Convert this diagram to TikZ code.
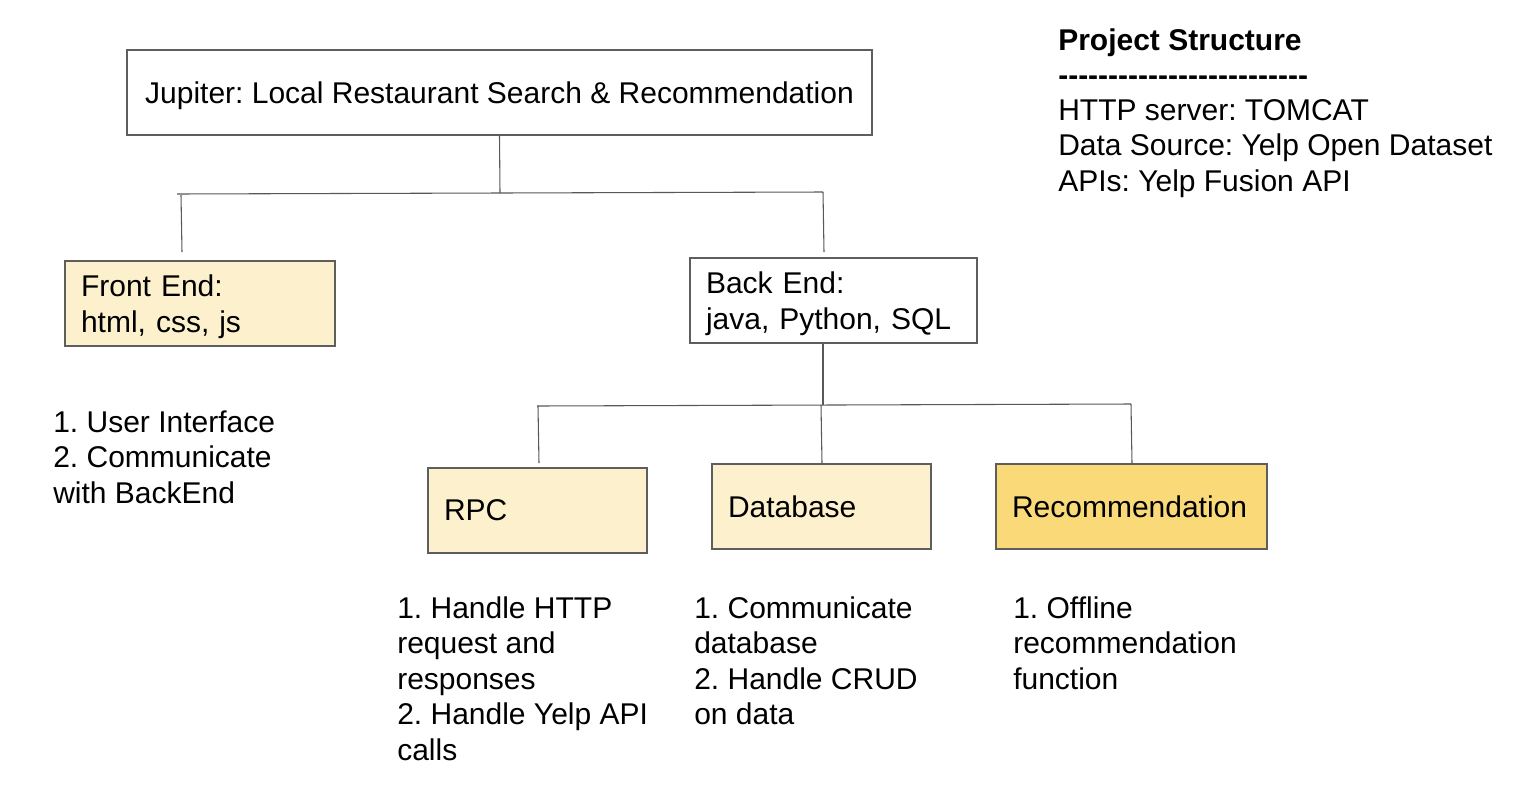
\documentclass[tikz,border=0pt]{standalone}
\usepackage{fontspec}
\setmainfont{Liberation Sans}
\frenchspacing
\definecolor{lightyel}{HTML}{FDF1CD}
\definecolor{midyel}{HTML}{F9D978}
\definecolor{edge}{HTML}{5E5E5E}
\definecolor{wire}{HTML}{585858}
\newcommand{\mainsize}{\fontsize{22.5}{26.6}\selectfont}
\newcommand{\toppad}{\rule{0pt}{21.5pt}}
\tikzset{
  box/.style={draw=edge, line width=1pt, rectangle, minimum height=63.75pt,
    inner xsep=12pt, inner ysep=0pt, align=left, font=\mainsize},
  wirestyle/.style={draw=wire, line width=0.8pt},
  note/.style={inner sep=0pt, anchor=north west, yshift=18.62pt, align=left,
    font=\mainsize}
}
\begin{document}
\begin{tikzpicture}[x=0.75pt,y=-0.75pt]
\path[use as bounding box, fill=white] (0,0) rectangle (1514,804);

% boxes
\node[box, minimum width=558.75pt] (top) at (499.5,92.5) {\rule{0pt}{21pt}Jupiter: Local Restaurant Search \& Recommendation};
\node[box, fill=lightyel, text width=178.5pt] (front) at (200,303.5) {\toppad Front End:\\html, css, js};
\node[box, text width=191.25pt] (back) at (833.5,300.5) {\toppad Back End:\\java, Python, SQL};
\node[box, fill=lightyel, text width=140.25pt] (rpc) at (537.5,510.5) {RPC};
\node[box, fill=lightyel, text width=140.25pt] (db) at (821.5,506.5) {Database};
\node[box, fill=midyel, text width=179.25pt] (rec) at (1131.5,506.5) {Recommendation};

% connector coordinates
\coordinate (j1) at (500,193);
\coordinate (hl) at (177,194);
\coordinate (hr) at (823,192);
\coordinate (fl) at (181,195);
\coordinate (fe) at (182,252);
\coordinate (be) at (824,252);
\coordinate (j2) at (823,405);
\coordinate (bl) at (537,406);
\coordinate (br) at (1131,404);
\coordinate (rs) at (538,406);
\coordinate (re) at (539,463);
\coordinate (ds) at (821,405);
\coordinate (de) at (822,463);
\coordinate (cs) at (1131,404);
\coordinate (ce) at (1132,463);

\draw[wirestyle] (top.south) -- (j1);
\draw[wirestyle] (hl) -- (hr);
\draw[wirestyle] (fl) -- (fe);
\draw[wirestyle] (hr) -- (be);
\draw[wirestyle] (back.south -| j2) -- (j2);
\draw[wirestyle] (bl) -- (br);
\draw[wirestyle] (rs) -- (re);
\draw[wirestyle] (ds) -- (de);
\draw[wirestyle] (cs) -- (ce);

% notes
\node[note] (fnote) at (53,432) {\strut 1. User Interface\\2. Communicate\\with BackEnd};
\node[note] (rnote) at (397,618) {\strut 1. Handle HTTP\\request and\\responses\\2. Handle Yelp API\\calls};
\node[note] (dnote) at (694,618) {\strut 1. Communicate\\database\\2. Handle CRUD\\on data};
\node[note] (cnote) at (1013,618) {\strut 1. Offline\\recommendation\\function};

% project structure
\node[note, font=\bfseries\mainsize] (ptitle) at (1058,50) {\strut Project Structure};
\node[note, font=\bfseries\mainsize] (pdash) at (1058,85) {\strut -{}-{}-{}-{}-{}-{}-{}-{}-{}-{}-{}-{}-{}-{}-{}-{}-{}-{}-{}-{}-{}-{}-{}-{}-};
\node[note] (pbody) at (1058,120) {\strut HTTP server: TOMCAT\\Data Source: Yelp Open Dataset\\APIs: Yelp Fusion API};
\end{tikzpicture}
\end{document}
